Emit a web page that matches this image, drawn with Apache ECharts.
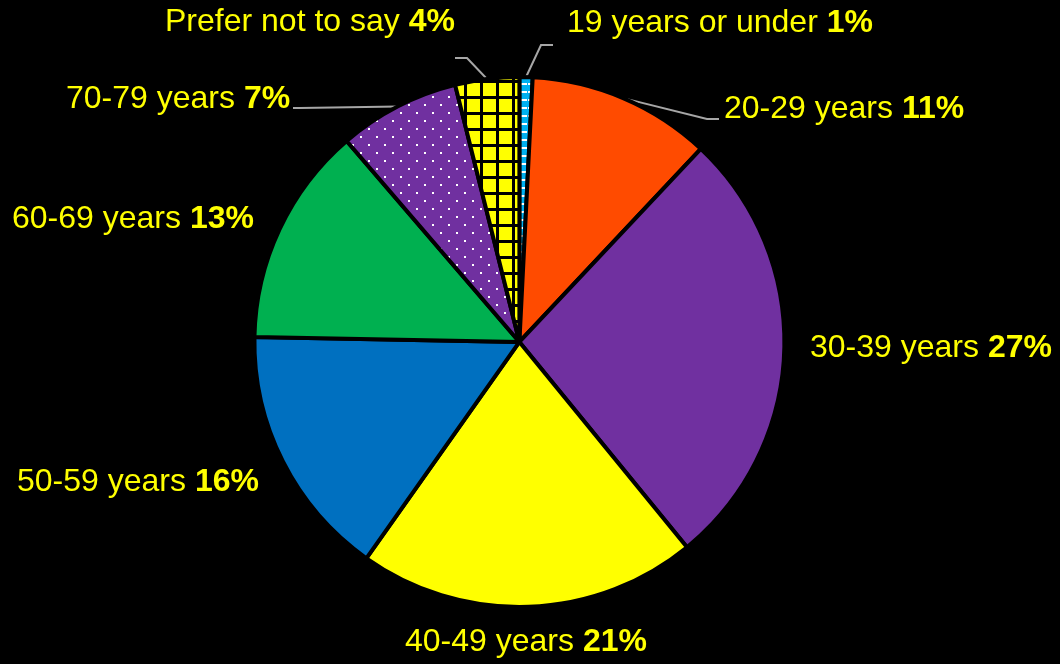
<!DOCTYPE html>
<html>
<head>
<meta charset="utf-8">
<title>Age groups</title>
<script src="https://cdn.jsdelivr.net/npm/echarts@6/dist/echarts.min.js"></script>
<style>
  html, body { margin: 0; padding: 0; background: #000; }
  #main { width: 1060px; height: 664px; }
</style>
</head>
<body>
<div id="main"></div>
<script>
// age bands, clockwise from 12 o'clock
const ageGroups = ['19 years or under', '20-29 years', '30-39 years', '40-49 years',
                   '50-59 years', '60-69 years', '70-79 years', 'Prefer not to say'];
// share of respondents (%)
const shares = [0.8, 11.2, 27.1, 20.7, 15.5, 13.4, 7.4, 3.9];

// where each label sits (left x, middle y) and the bend of its leader line
const labelSpots = [[567, 23], [724, 109], [810, 348], [405, 642],
                    [17, 482], [12, 219], [66, 99], [165, 22]];
const leaderBends = {
  0: [[541, 45], [553, 45]],
  1: [[707, 119], [719, 119]],
  6: [[300, 108], [293, 108]],
  7: [[467, 58], [455, 58]]
};

// small pattern tiles like the office fills
function makeTile(size, draw) {
  const c = document.createElement('canvas');
  c.width = size; c.height = size;
  draw(c.getContext('2d'));
  return { image: c, repeat: 'repeat' };
}
const dashBlue = makeTile(8, function (g) {
  g.fillStyle = '#00B0F0'; g.fillRect(0, 0, 8, 8);
  g.fillStyle = '#ffffff'; g.fillRect(0, 3, 7, 2);
});
const dotPurple = makeTile(16, function (g) {
  g.fillStyle = '#7030A0'; g.fillRect(0, 0, 16, 16);
  g.fillStyle = '#ffffff'; g.fillRect(0, 0, 2, 2); g.fillRect(8, 8, 2, 2);
});
const gridYellow = makeTile(16, function (g) {
  g.fillStyle = '#FFFF00'; g.fillRect(0, 0, 16, 16);
  g.fillStyle = '#000000'; g.fillRect(0, 0, 3, 16); g.fillRect(0, 0, 16, 3);
});
const fills = [dashBlue, '#FF4B00', '#7030A0', '#FFFF00', '#0070C0', '#00B050', dotPurple, gridYellow];

const pieData = ageGroups.map(function (name, i) {
  return {
    name: name,
    value: shares[i],
    itemStyle: { color: fills[i] },
    labelLine: { show: !!leaderBends[i] }
  };
});

const labelFont = 'Liberation Sans, Arial, sans-serif';

let myChart = echarts.init(document.getElementById('main'));
let option = {
  backgroundColor: '#000000',
  animation: false,
  series: [{
    type: 'pie',
    center: ['49%', '51.5%'],
    radius: 265,
    startAngle: 90,
    clockwise: true,
    data: pieData,
    itemStyle: { borderColor: '#000000', borderWidth: 4 },
    label: {
      show: true,
      position: 'outside',
      overflow: 'none',
      width: 420,
      color: '#FFFF00',
      fontFamily: labelFont,
      fontSize: 32,
      formatter: function (p) {
        return '{n|' + p.name + ' }{b|' + Math.round(p.value) + '%}';
      },
      rich: {
        n: { color: '#FFFF00', fontSize: 32, fontFamily: labelFont },
        b: { color: '#FFFF00', fontSize: 32, fontWeight: 'bold', fontFamily: labelFont }
      }
    },
    labelLine: {
      lineStyle: { color: '#A6A6A6', width: 2 }
    },
    labelLayout: function (params) {
      const i = params.dataIndex;
      const spot = labelSpots[i];
      const out = { x: spot[0], y: spot[1], align: 'left', verticalAlign: 'middle' };
      if (leaderBends[i] && params.labelLinePoints) {
        out.labelLinePoints = [params.labelLinePoints[0]].concat(leaderBends[i]);
      }
      return out;
    }
  }]
};
myChart.setOption(option);
</script>
</body>
</html>
